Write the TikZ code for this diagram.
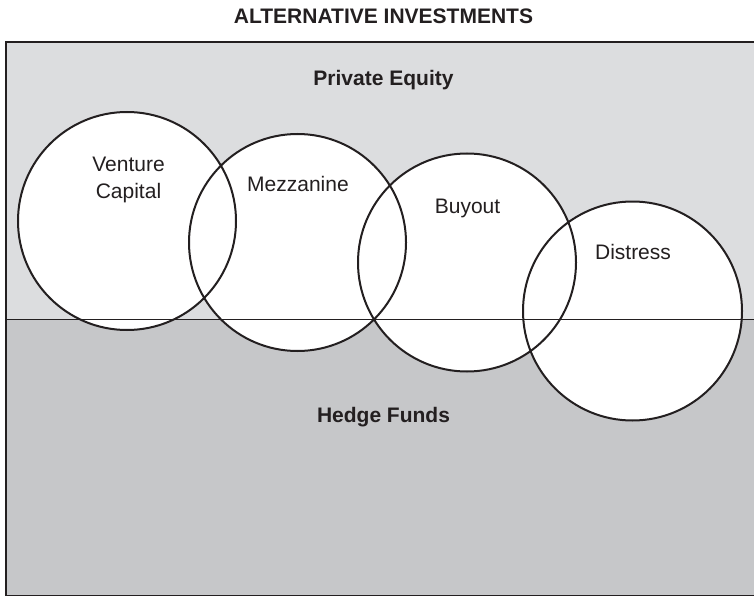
\documentclass[tikz,border=0pt]{standalone}
\usepackage{fontspec}
\setmainfont{Liberation Sans}
\definecolor{upperfill}{RGB}{220,221,223}
\definecolor{lowerfill}{RGB}{198,199,201}
\definecolor{ink}{RGB}{35,31,32}
\begin{document}
\begin{tikzpicture}[x=1pt,y=-1pt,
  circfill/.style={circle,minimum size=218pt,inner sep=0pt,fill=white,draw=none},
  ring/.style={draw=ink,line width=2pt},
  lbl/.style={font=\fontsize{21}{26.6}\selectfont,text=ink,inner sep=0pt,anchor=base,align=center},
  hdr/.style={font=\bfseries\fontsize{21}{26.6}\selectfont,text=ink,inner sep=0pt,anchor=base}]
\useasboundingbox (0,0) rectangle (754,596);
% background regions
\fill[upperfill] (6,42) rectangle (760,319);
\fill[lowerfill] (6,319) rectangle (760,600);
% circle fills
\node[circfill] (vc) at (127,221) {};
\node[circfill] (mz) at (297.5,242.5) {};
\node[circfill] (bo) at (467,262.5) {};
\node[circfill] (ds) at (632.5,311) {};
% dividing line
\coordinate (divl) at (6,319);
\coordinate (divr) at (760,319);
\draw[ink,line width=1pt] (divl) -- (divr);
% circle outlines
\draw[ring] (vc.center) circle[radius=109pt];
\draw[ring] (mz.center) circle[radius=108.5pt];
\draw[ring] (bo.center) circle[radius=109pt];
\draw[ring] (ds.center) circle[radius=109.5pt];
% border
\draw[ink,line width=2.3pt] (760,42) -- (6,42) -- (6,596) -- (760,596);
% texts
\node[hdr] (title) at (383.5,24) {ALTERNATIVE INVESTMENTS};
\node[hdr] (pe) at (383.5,86) {Private Equity};
\node[hdr] (hf) at (383.5,422) {Hedge Funds};
\node[lbl] (vct) at (128.5,198.3) {Venture\\Capital};
\node[lbl] (mzt) at (298,191.7) {Mezzanine};
\node[lbl] (bot) at (467.5,213.5) {Buyout};
\node[lbl] (dst) at (633,259) {Distress};
\end{tikzpicture}
\end{document}
